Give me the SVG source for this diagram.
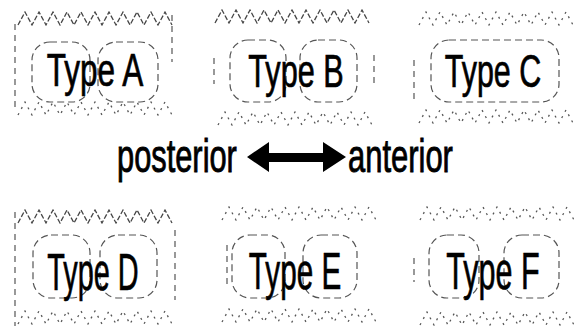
<svg xmlns="http://www.w3.org/2000/svg" xmlns:xlink="http://www.w3.org/1999/xlink" width="584" height="332" viewBox="0 0 584 332">
<style>
.zz{fill:none;stroke:#444;stroke-width:1.3;stroke-dasharray:5 2}
.tk{fill:none;stroke:#555;stroke-width:1.3;stroke-dasharray:2 5}
.ring{fill:none;stroke:#555;stroke-width:1.2;stroke-dasharray:7 4}
.edge{fill:none;stroke:#555;stroke-width:1.2;stroke-dasharray:6 5}
.lbl{font-family:"Liberation Sans",Arial,sans-serif;font-size:46px;fill:#000;stroke:#000;stroke-width:0.7;text-anchor:middle}
.big{font-size:52px}
.ax{font-family:"Liberation Sans",Arial,sans-serif;font-size:46px;fill:#000;stroke:#000;stroke-width:0.9}
</style>
<defs>
<path id="zzp" d="M0,13 l7,-13 7,13 7,-13 7,13 7,-13 7,13 7,-13 7,13 7,-13 7,13 7,-13 7,13 7,-13 7,13 7,-13 7,13 7,-13 7,13 7,-13 7,13 7,-13 7,13"/>
</defs>
<rect width="584" height="332" fill="#fff"/>
<g id="typeA">
<use href="#zzp" x="18" y="12" class="zz"/>
<use href="#zzp" x="18" y="102" class="tk"/>
<path class="edge" d="M15,24 V112 M172,15 V62"/>
<rect class="ring" x="32" y="42" width="58" height="60" rx="18"/>
<rect class="ring" x="98" y="42" width="60" height="60" rx="18"/>
<text class="lbl" transform="translate(95,86) scale(0.686,1)">Type A</text>
</g>
<g id="typeB">
<use href="#zzp" x="215" y="10" class="zz"/>
<use href="#zzp" x="218" y="112" class="tk"/>
<path class="edge" d="M214,58 V84 M374,55 V86"/>
<rect class="ring" x="230" y="40" width="56" height="62" rx="18"/>
<rect class="ring" x="300" y="40" width="57" height="62" rx="18"/>
<text class="lbl" transform="translate(296,87) scale(0.666,1)">Type B</text>
</g>
<g id="typeC">
<use href="#zzp" x="419" y="12" class="tk"/>
<use href="#zzp" x="419" y="110" class="tk"/>
<path class="edge" d="M414,60 V104"/>
<rect class="ring" x="431" y="40" width="128" height="62" rx="18"/>
<text class="lbl" transform="translate(493,87) scale(0.661,1)">Type C</text>
</g>
<g id="typeD">
<use href="#zzp" x="18" y="210" class="zz"/>
<use href="#zzp" x="18" y="311" class="tk"/>
<path class="edge" d="M15,212 V326 M175,230 V300"/>
<rect class="ring" x="33" y="235" width="57" height="63" rx="18"/>
<rect class="ring" x="100" y="235" width="57" height="63" rx="18"/>
<text class="lbl big" transform="translate(93,290) scale(0.555,1)">Type D</text>
</g>
<g id="typeE">
<use href="#zzp" x="222" y="207" class="tk"/>
<use href="#zzp" x="222" y="309" class="tk"/>
<path class="edge" d="M227,245 V285"/>
<rect class="ring" x="232" y="235" width="53" height="63" rx="18"/>
<rect class="ring" x="303" y="235" width="54" height="63" rx="18"/>
<text class="lbl big" transform="translate(295,289) scale(0.571,1)">Type E</text>
</g>
<g id="typeF">
<use href="#zzp" x="420" y="207" class="tk"/>
<use href="#zzp" x="420" y="312" class="tk"/>
<path class="edge" d="M414,258 V282"/>
<rect class="ring" x="429" y="235" width="50" height="63" rx="18"/>
<rect class="ring" x="504" y="235" width="55" height="63" rx="18"/>
<text class="lbl big" transform="translate(493,289) scale(0.587,1)">Type F</text>
</g>
<g id="axis">
<text class="ax" transform="translate(117,172) scale(0.67,1)">posterior</text>
<text class="ax" transform="translate(348,172) scale(0.673,1)">anterior</text>
</g>
<g id="connectors">
<polygon fill="#000" points="247,157 269,142 269,153 323,153 323,142 346,157 323,172 323,162 269,162 269,172"/>
</g>
</svg>
